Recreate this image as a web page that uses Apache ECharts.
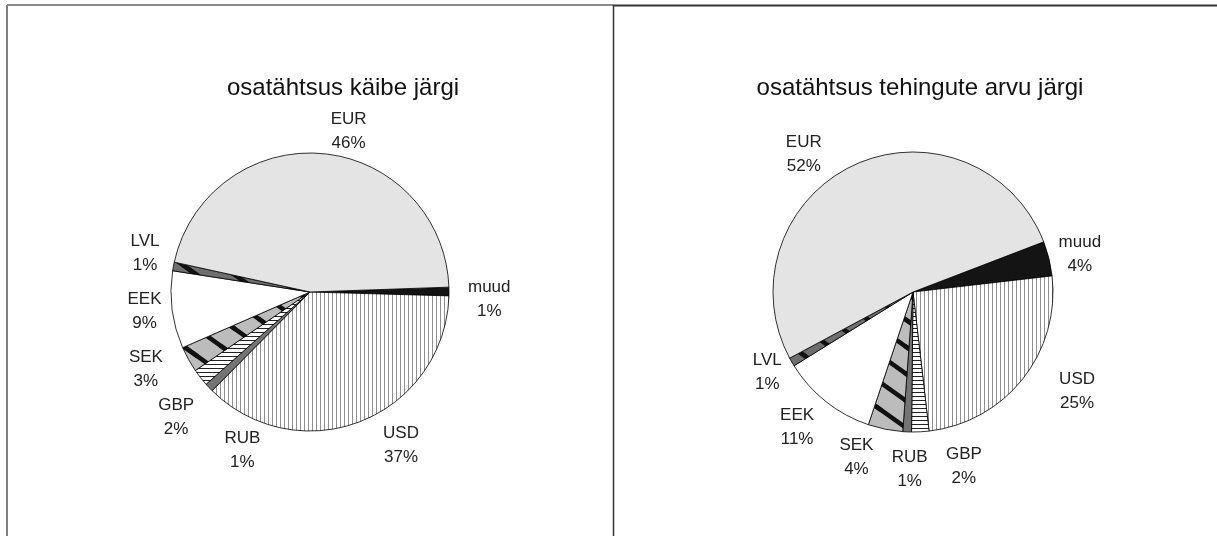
<!DOCTYPE html>
<html>
<head>
<meta charset="utf-8">
<script src="https://cdn.jsdelivr.net/npm/echarts@6/dist/echarts.min.js"></script>
<style>
html,body{margin:0;padding:0;background:#fff;}
#chart{width:1217px;height:536px;}
</style>
</head>
<body>
<div id="chart"></div>
<script>
// ---- data ----
const titles = ['osatähtsus käibe järgi', 'osatähtsus tehingute arvu järgi'];
const turnoverCurrencies = ['muud', 'USD', 'RUB', 'GBP', 'SEK', 'EEK', 'LVL', 'EUR'];
const turnoverShares     = [1, 37, 1, 2, 3, 9, 1, 46];
const countCurrencies    = ['muud', 'USD', 'GBP', 'RUB', 'SEK', 'EEK', 'LVL', 'EUR'];
const countShares        = [4, 25, 2, 1, 4, 11, 1, 52];

// ---- label nudges (style only: small offsets of the library-placed labels) ----
const turnoverLabelNudge = [[2, 8], [12, 13], [65, -1], [17, 9], [-3, 4], [2, 0], [-2, -11], [2, -10]];
const countLabelNudge    = [[-7, -1], [22, 5], [20, 23], [26, -28], [54, 3], [25, 16], [10, 4], [-23, 1]];

// ---- fill patterns ----
function pattern(w, h, bg, draw) {
  const c = document.createElement('canvas');
  c.width = w; c.height = h;
  const g = c.getContext('2d');
  g.fillStyle = bg; g.fillRect(0, 0, w, h);
  if (draw) draw(g, w, h);
  return { image: c, repeat: 'repeat' };
}
function slantBars(lineW, color) {
  return function (g, w, h) {
    g.strokeStyle = color; g.lineWidth = lineW; g.lineCap = 'butt';
    for (let kx = -1; kx <= 1; kx++) {
      for (let ky = -1; ky <= 1; ky++) {
        g.beginPath();
        g.moveTo(kx * w - w * 0.2, ky * h - h * 0.2);
        g.lineTo(kx * w + w * 1.2, ky * h + h * 1.2);
        g.stroke();
      }
    }
  };
}
const fills = {
  EUR: '#e4e4e5',
  muud: '#141414',
  USD: pattern(4, 4, '#ffffff', (g) => { g.fillStyle = '#8f8f8f'; g.fillRect(0, 0, 1, 4); }),
  RUB: '#747474',
  GBP: pattern(4, 4, '#ffffff', (g) => { g.fillStyle = '#222222'; g.fillRect(0, 0, 4, 1); }),
  SEK: pattern(38, 27, '#bcbcbc', slantBars(4.5, '#111111')),
  EEK: '#ffffff',
  LVL: pattern(38, 27, '#6e6e6e', slantBars(4.5, '#111111'))
};

function seriesData(names, vals) {
  return names.map((n, i) => ({ name: n, value: vals[i], itemStyle: { color: fills[n] } }));
}

const FONT = 'Liberation Sans, Arial, sans-serif';
const labelCommon = {
  show: true,
  position: 'outside',
  formatter: (p) => '{a|' + p.name + '}\n{a|' + Math.round(p.percent) + '%}',
  rich: { a: { align: 'center', fontSize: 17, lineHeight: 24, color: '#222', fontFamily: FONT } }
};
function nudger(arr) {
  return (p) => ({ dx: arr[p.dataIndex][0], dy: arr[p.dataIndex][1] });
}

const chart = echarts.init(document.getElementById('chart'), null, { renderer: 'canvas' });
chart.setOption({
  animation: false,
  backgroundColor: '#ffffff',
  title: [
    { text: titles[0], left: 338, top: 71, textAlign: 'center',
      textStyle: { fontSize: 24, fontWeight: 'normal', color: '#111', fontFamily: FONT } },
    { text: titles[1], left: 915, top: 71, textAlign: 'center',
      textStyle: { fontSize: 24, fontWeight: 'normal', color: '#111', fontFamily: FONT } }
  ],
  graphic: [
    { type: 'line', shape: { x1: 7, y1: 560, x2: 7, y2: 5 }, style: { stroke: '#555', lineWidth: 1.5 }, z: 10 },
    { type: 'line', shape: { x1: 7, y1: 5, x2: 613, y2: 5 }, style: { stroke: '#8a8a8a', lineWidth: 2 }, z: 10 },
    { type: 'line', shape: { x1: 613, y1: 5.5, x2: 1217, y2: 5.5 }, style: { stroke: '#333', lineWidth: 2 }, z: 10 },
    { type: 'line', shape: { x1: 613.5, y1: 5, x2: 613.5, y2: 560 }, style: { stroke: '#333', lineWidth: 1.5 }, z: 10 }
  ],
  series: [
    {
      type: 'pie', center: [310, 292], radius: 139, startAngle: 2, clockwise: true,
      avoidLabelOverlap: true, silent: true,
      itemStyle: { borderColor: '#000', borderWidth: 0.8 },
      label: labelCommon,
      labelLine: { show: false, length: 12, length2: 0 },
      labelLayout: nudger(turnoverLabelNudge),
      data: seriesData(turnoverCurrencies, turnoverShares)
    },
    {
      type: 'pie', center: [913, 292], radius: 140, startAngle: 21, clockwise: true,
      avoidLabelOverlap: true, silent: true,
      itemStyle: { borderColor: '#000', borderWidth: 0.8 },
      label: labelCommon,
      labelLine: { show: false, length: 12, length2: 0 },
      labelLayout: nudger(countLabelNudge),
      data: seriesData(countCurrencies, countShares)
    }
  ]
});
</script>
</body>
</html>
